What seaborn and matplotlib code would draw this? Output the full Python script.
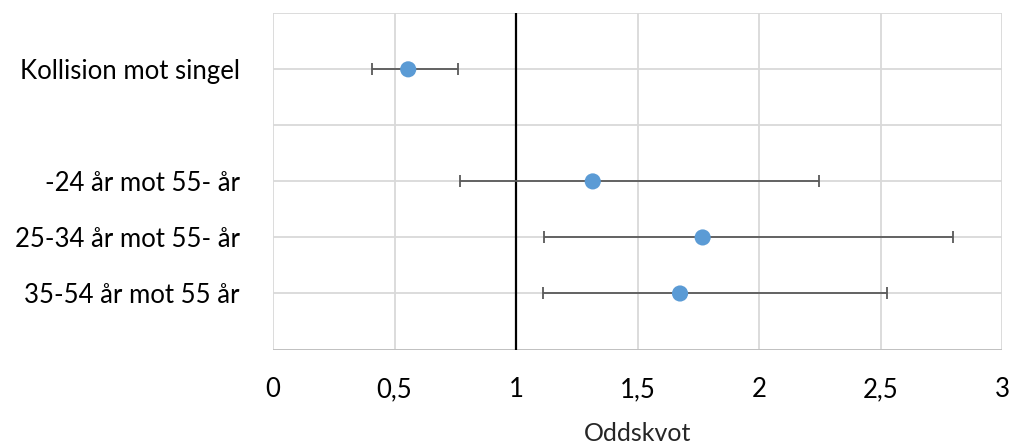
import matplotlib
matplotlib.use("Agg")
import matplotlib.pyplot as plt
import pandas as pd
import seaborn as sns

# comparisons, odds ratios and 95% CI bounds
labels = ["Kollision mot singel", "-24 år mot 55- år", "25-34 år mot 55- år", "35-54 år mot 55 år"]
odds = [0.556, 1.315, 1.767, 1.674]
ci_low = [0.408, 0.770, 1.116, 1.111]
ci_high = [0.762, 2.247, 2.796, 2.525]
rows = [5, 3, 2, 1]
x_ticks = [0, 0.5, 1, 1.5, 2, 2.5, 3]
x_tick_labels = ["0", "0,5", "1", "1,5", "2", "2,5", "3"]


def plot():
    sns.set_style("white")
    plt.rcParams["font.family"] = ["Lato", "DejaVu Sans"]

    df = pd.DataFrame({"label": labels, "odds": odds, "lo": ci_low, "hi": ci_high, "row": rows})

    fig = plt.figure(figsize=(10.13, 4.43), dpi=100)
    ax = fig.add_axes([0.2695, 0.211, 0.7201, 0.759])

    # grid
    for y in range(0, 7):
        ax.axhline(y, color="#d9d9d9", lw=1.3, zorder=0)
    for x in x_ticks:
        ax.axvline(x, color="#d9d9d9", lw=1.3, zorder=0)
    ax.axhline(0, color="#bfbfbf", lw=1.3, zorder=1)
    ax.axvline(1, color="black", lw=1.6, zorder=2)

    ax.errorbar(
        df["odds"], df["row"],
        xerr=[df["odds"] - df["lo"], df["hi"] - df["odds"]],
        fmt="none", ecolor="#595959", elinewidth=1.3, capsize=4, capthick=1.3, zorder=3,
    )
    sns.scatterplot(data=df, x="odds", y="row", ax=ax, color="#5b9bd5", s=135,
                    edgecolor="none", zorder=4, legend=False)

    ax.set_xlim(0, 3)
    ax.set_ylim(0, 6)
    ax.set_xticks(x_ticks)
    ax.set_xticklabels(x_tick_labels)
    ax.set_yticks(rows)
    ax.set_yticklabels(labels)
    ax.tick_params(axis="both", length=0, labelsize=18.5, colors="black")
    ax.tick_params(axis="x", pad=20)
    ax.tick_params(axis="y", pad=24)
    ax.set_xlabel("Oddskvot", fontsize=18, labelpad=14)
    ax.set_ylabel("")
    for s in ax.spines.values():
        s.set_visible(False)

    fig.savefig("out.png", dpi=100)


if __name__ == "__main__":
    plot()
